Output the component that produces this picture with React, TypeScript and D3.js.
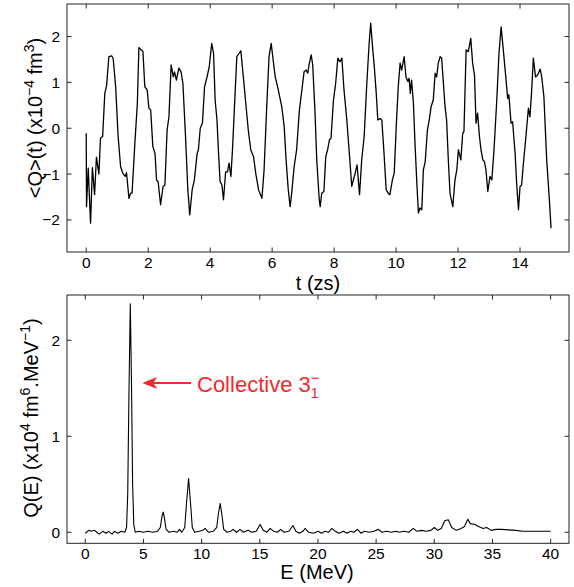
import React from 'react'
import * as d3 from 'd3'

// time signal <Q>(t)
const timeZs = [0, 0.01, 0.065, 0.14, 0.2, 0.27, 0.33, 0.41, 0.46, 0.53, 0.6, 0.66, 0.73, 0.82, 0.87, 0.95, 1.03, 1.11, 1.18, 1.26, 1.3, 1.38, 1.43, 1.48, 1.57, 1.65, 1.7, 1.77, 1.83, 1.89, 1.97, 2.02, 2.08, 2.15, 2.22, 2.27, 2.32, 2.4, 2.48, 2.54, 2.61, 2.67, 2.74, 2.81, 2.85, 2.91, 2.99, 3.06, 3.12, 3.2, 3.28, 3.34, 3.42, 3.49, 3.58, 3.62, 3.68, 3.75, 3.82, 3.89, 3.97, 4.05, 4.11, 4.16, 4.22, 4.27, 4.32, 4.38, 4.43, 4.5, 4.56, 4.61, 4.67, 4.72, 4.78, 4.86, 4.93, 4.99, 5.07, 5.16, 5.23, 5.31, 5.4, 5.47, 5.56, 5.67, 5.74, 5.83, 5.9, 5.97, 6.02, 6.1, 6.2, 6.31, 6.39, 6.45, 6.52, 6.58, 6.63, 6.71, 6.79, 6.88, 6.96, 7.03, 7.1, 7.15, 7.19, 7.26, 7.31, 7.38, 7.44, 7.52, 7.55, 7.6, 7.67, 7.73, 7.79, 7.85, 7.9, 7.98, 8.05, 8.12, 8.19, 8.25, 8.32, 8.41, 8.49, 8.57, 8.62, 8.68, 8.74, 8.82, 8.89, 8.97, 9.05, 9.13, 9.18, 9.24, 9.3, 9.36, 9.41, 9.48, 9.54, 9.61, 9.68, 9.75, 9.8, 9.88, 9.94, 10.01, 10.07, 10.13, 10.18, 10.26, 10.32, 10.38, 10.42, 10.46, 10.5, 10.56, 10.61, 10.67, 10.72, 10.77, 10.83, 10.88, 10.94, 11.01, 11.07, 11.13, 11.2, 11.26, 11.31, 11.36, 11.42, 11.47, 11.58, 11.63, 11.69, 11.74, 11.83, 11.9, 11.96, 12.01, 12.09, 12.15, 12.19, 12.26, 12.33, 12.41, 12.47, 12.53, 12.58, 12.63, 12.69, 12.74, 12.8, 12.85, 12.9, 12.96, 13.03, 13.09, 13.16, 13.25, 13.32, 13.39, 13.46, 13.54, 13.6, 13.64, 13.71, 13.76, 13.84, 13.89, 13.95, 14.0, 14.05, 14.11, 14.19, 14.27, 14.32, 14.37, 14.43, 14.5, 14.57, 14.65, 14.7, 14.77, 14.86, 14.94, 15.0]
const qOfT = [-0.11, -1.71, -0.87, -2.07, -0.86, -1.45, -0.63, -1.0, -0.22, -0.18, 0.76, 0.94, 1.56, 1.58, 1.52, 0.91, -0.18, -0.84, -0.98, -1.05, -0.97, -1.53, -1.42, -1.41, -0.33, 0.54, 1.76, 1.71, 1.68, 0.91, 0.83, 0.44, 0.4, -0.4, -0.55, -1.13, -1.16, -1.67, -1.27, -1.24, -0.04, 0.25, 1.38, 1.12, 1.23, 1.05, 1.31, 1.23, 0.98, -0.11, -1.34, -1.89, -1.34, -1.13, -0.55, -0.47, 0.0, 0.11, 0.91, 1.09, 1.34, 1.85, 1.63, 0.62, 0.18, -0.54, -1.16, -1.24, -1.56, -0.95, -0.95, -0.76, -1.05, -0.47, 0.4, 1.56, 1.63, 1.69, 1.12, 0.47, -0.04, -0.47, -0.62, -0.98, -1.34, -1.53, -0.91, 0.54, 1.56, 1.85, 1.56, 1.12, 0.83, 0.47, 0.03, -0.69, -1.34, -1.71, -1.42, -0.84, -0.47, 0.4, 0.83, 1.23, 1.27, 1.2, 1.38, 1.6, 1.38, 0.4, -0.69, -1.56, -1.71, -1.42, -1.38, -0.62, -0.47, -0.25, -0.22, 0.62, 0.98, 1.53, 1.45, 1.53, 0.83, 0.18, -0.54, -1.27, -1.13, -0.98, -0.8, -1.45, -0.69, -0.18, 0.91, 1.85, 2.29, 1.78, 1.31, 0.76, 0.18, 0.21, 0.18, -0.54, -1.34, -1.42, -1.45, -1.13, -0.98, 0.11, 0.91, 1.42, 1.27, 1.56, 1.12, 1.02, 1.09, 0.76, 1.05, 0.54, -0.33, -1.2, -1.85, -1.74, -1.78, -0.91, -0.73, -0.04, 0.18, 0.47, 0.62, 1.2, 1.12, 1.42, 1.56, 1.53, 0.47, 0.18, -0.76, -1.42, -1.71, -1.13, -0.91, -0.47, -0.69, -0.11, -0.07, 1.71, 1.67, 1.96, 1.42, 1.16, 0.11, 0.33, -0.18, -0.47, -0.69, -0.73, -0.91, -1.38, -1.05, -1.13, -0.47, 0.62, 1.63, 2.21, 1.71, 1.12, 0.65, 0.73, 0.11, 0.14, -0.54, -1.2, -1.78, -1.27, -1.24, -0.76, -0.18, 0.44, 0.25, 0.76, 1.53, 1.12, 1.16, 1.29, 1.12, 0.69, -0.69, -1.49, -2.18]

// strength function Q(E)
const energyMeV = [0, 0.3, 0.5, 0.8, 1.0, 1.2, 1.5, 1.8, 2.0, 2.3, 2.5, 2.8, 3.1, 3.4, 3.55, 3.65, 3.75, 3.87, 3.97, 4.07, 4.17, 4.3, 4.6, 5.0, 5.4, 5.8, 6.2, 6.45, 6.6, 6.7, 6.8, 6.95, 7.2, 7.6, 7.9, 8.1, 8.3, 8.55, 8.7, 8.88, 9.05, 9.2, 9.4, 9.8, 10.1, 10.3, 10.6, 11.0, 11.3, 11.45, 11.6, 11.75, 11.9, 12.2, 12.5, 12.7, 13.0, 13.3, 13.6, 14.0, 14.3, 14.7, 15.03, 15.3, 15.6, 15.9, 16.2, 16.5, 16.8, 17.1, 17.5, 17.85, 18.1, 18.4, 18.7, 18.9, 19.2, 19.6, 20.0, 20.3, 20.6, 20.9, 21.2, 21.5, 21.8, 22.2, 22.5, 22.8, 23.1, 23.4, 23.7, 24.0, 24.4, 24.8, 25.2, 25.5, 25.9, 26.3, 26.7, 27.0, 27.4, 27.8, 28.2, 28.5, 28.9, 29.3, 29.7, 30.0, 30.3, 30.6, 30.9, 31.2, 31.5, 31.9, 32.3, 32.6, 32.88, 33.1, 33.5, 33.8, 34.2, 34.5, 34.9, 35.3, 35.8, 36.4, 37.0, 37.6, 38.2, 39.0, 40.0]
const qOfE = [-0.01, 0.02, 0.01, 0.02, 0.0, -0.02, 0.01, -0.01, 0.01, -0.02, 0.01, -0.01, 0.01, 0.0, 0.05, 0.4, 1.4, 2.38, 1.6, 0.5, 0.08, 0.0, 0.01, 0.0, 0.01, 0.0, 0.01, 0.05, 0.17, 0.21, 0.15, 0.03, 0.0, 0.01, 0.0, 0.03, 0.0, 0.05, 0.3, 0.56, 0.3, 0.05, 0.0, 0.01, 0.02, 0.04, 0.0, 0.01, 0.05, 0.2, 0.3, 0.18, 0.03, 0.0, 0.01, 0.03, 0.0, 0.03, 0.0, 0.02, 0.0, 0.01, 0.08, 0.02, 0.0, 0.04, 0.01, 0.0, 0.03, 0.0, 0.01, 0.07, 0.01, -0.01, 0.01, 0.04, 0.0, -0.01, 0.01, -0.01, 0.01, 0.0, 0.04, 0.01, -0.01, 0.01, -0.01, 0.01, 0.0, 0.03, -0.01, 0.01, 0.0, 0.01, 0.03, 0.0, 0.01, 0.0, 0.01, 0.0, 0.01, 0.0, 0.04, 0.01, 0.02, 0.01, 0.02, 0.05, 0.02, 0.04, 0.12, 0.13, 0.05, 0.02, 0.04, 0.06, 0.135, 0.09, 0.08, 0.06, 0.04, 0.05, 0.02, 0.03, 0.03, 0.025, 0.02, 0.01, 0.01, 0.01, 0.01]

const tTicks = [0, 2, 4, 6, 8, 10, 12, 14]
const qtTicks = [-2, -1, 0, 1, 2]
const eTicks = [0, 5, 10, 15, 20, 25, 30, 35, 40]
const qeTicks = [0, 1, 2]

const fmt = d3.format('')
const font = 'Arial, "Liberation Sans", Helvetica, sans-serif'
const red = '#ee2b2e'

function Frame({x, y, xt, yt}) {
    const [x0, x1] = x.range()
    const [y0, y1] = y.range()
    const tk = 4.5
    return (
        <g>
            <rect x={x0} y={y1} width={x1 - x0} height={y0 - y1} fill="none" stroke="#222" strokeWidth={1} />
            {xt.map(d => (
                <g key={'x' + d}>
                    <line x1={x(d)} x2={x(d)} y1={y0} y2={y0 - tk} stroke="#222" />
                    <line x1={x(d)} x2={x(d)} y1={y1} y2={y1 + tk} stroke="#222" />
                    <text x={x(d)} y={y0 + 16} textAnchor="middle" fontSize={15.5}>{fmt(d)}</text>
                </g>
            ))}
            {yt.map(d => (
                <g key={'y' + d}>
                    <line x1={x0} x2={x0 + tk} y1={y(d)} y2={y(d)} stroke="#222" />
                    <line x1={x1} x2={x1 - tk} y1={y(d)} y2={y(d)} stroke="#222" />
                    <text x={x0 - 7} y={y(d)} dy="0.36em" textAnchor="end" fontSize={15.5}>{fmt(d)}</text>
                </g>
            ))}
        </g>
    )
}

export default function App() {
    // top panel
    const xT = d3.scaleLinear().domain([-0.62, 15.58]).range([67, 569])
    const yT = d3.scaleLinear().domain([-2.7, 2.71]).range([252, 4])
    // bottom panel
    const xE = d3.scaleLinear().domain([-1.57, 41.58]).range([67, 569])
    const yE = d3.scaleLinear().domain([-0.115, 2.472]).range([543.3, 295])

    const lineT = d3.line().x(d => xT(d[0])).y(d => yT(d[1]))
    const lineE = d3.line().x(d => xE(d[0])).y(d => yE(d[1]))

    const ptsT = timeZs.map((t, i) => [t, qOfT[i]])
    const ptsE = energyMeV.map((e, i) => [e, qOfE[i]])

    const arrowY = yE(1.555)
    const tipX = xE(4.9)

    return (
        <svg width={574} height={587} style={{position: 'absolute', left: 0, top: 0, background: '#fff'}}
             fontFamily={font}>
            <Frame x={xT} y={yT} xt={tTicks} yt={qtTicks} />
            <path d={lineT(ptsT)} fill="none" stroke="#000" strokeWidth={1.3} strokeLinejoin="round" />
            <text x={318} y={290} textAnchor="middle" fontSize={20}>t (zs)</text>
            <text transform="translate(41.5,118) rotate(-90)" textAnchor="middle" fontSize={20}>
                {'<Q>(t) (x10'}<tspan dy={-8} fontSize={14}>−4</tspan><tspan dy={8}> fm</tspan><tspan dy={-8} fontSize={14}>3</tspan><tspan dy={8}>)</tspan>
            </text>

            <Frame x={xE} y={yE} xt={eTicks} yt={qeTicks} />
            <path d={lineE(ptsE)} fill="none" stroke="#000" strokeWidth={1.1} strokeLinejoin="round" />
            <text x={317} y={579} textAnchor="middle" fontSize={20}>E (MeV)</text>
            <text transform="translate(38,418) rotate(-90)" textAnchor="middle" fontSize={20}>
                {'Q(E) (x10'}<tspan dy={-8} fontSize={14}>4</tspan><tspan dy={8}> fm</tspan><tspan dy={-8} fontSize={14}>6</tspan><tspan dy={8}>.MeV</tspan><tspan dy={-8} fontSize={14}>−1</tspan><tspan dy={8}>)</tspan>
            </text>

            <line x1={tipX + 10} x2={191} y1={arrowY} y2={arrowY} stroke={red} strokeWidth={2} />
            <path d={`M${tipX},${arrowY} L${tipX + 15},${arrowY - 6} L${tipX + 11},${arrowY} L${tipX + 15},${arrowY + 6} Z`} fill={red} />
            <text x={197} y={392} fontSize={22} fill={red}>
                Collective 3<tspan dy={-9} fontSize={15}>−</tspan><tspan dx={-9} dy={15} fontSize={15}>1</tspan>
            </text>
        </svg>
    )
}
